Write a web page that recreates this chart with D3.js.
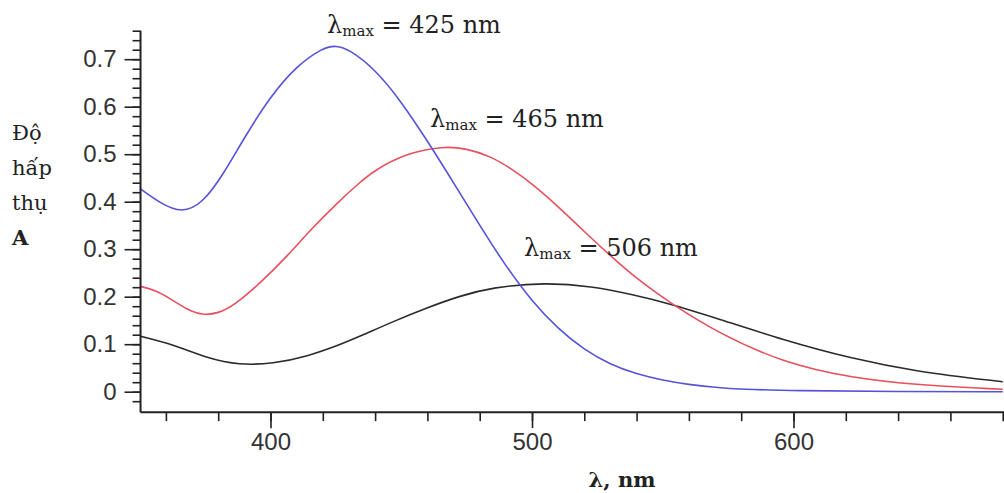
<!DOCTYPE html>
<html>
<head>
<meta charset="utf-8">
<script src="https://cdn.jsdelivr.net/npm/d3@7"></script>
<style>
  body { margin: 0; background: #fff; }
  svg { display: block; }
</style>
</head>
<body>
<script>
var width = 1004;
var height = 493;

// wavelength (nm) / absorbance readings for each curve
var blueWl = [350, 358, 366, 374, 382, 390, 400, 410, 420, 425, 430, 440, 450, 460, 470, 480, 490, 500, 510, 520, 530, 540, 550, 560, 570, 580, 600, 640, 680];
var blueA  = [0.428, 0.396, 0.376, 0.396, 0.458, 0.535, 0.622, 0.686, 0.724, 0.729, 0.721, 0.679, 0.611, 0.528, 0.440, 0.350, 0.264, 0.190, 0.132, 0.088, 0.057, 0.037, 0.024, 0.015, 0.009, 0.005, 0.002, 0.0, 0.0];

var redWl = [350, 356, 362, 368, 374, 380, 386, 397, 407, 415, 426, 434, 440, 452, 466, 475, 484, 492, 500, 510, 520, 530, 540, 553, 571, 596, 622, 647, 680];
var redA  = [0.222, 0.214, 0.195, 0.173, 0.161, 0.165, 0.181, 0.233, 0.289, 0.339, 0.400, 0.440, 0.467, 0.502, 0.517, 0.512, 0.496, 0.470, 0.438, 0.390, 0.337, 0.286, 0.238, 0.186, 0.124, 0.061, 0.029, 0.014, 0.005];

var blackWl = [350, 363, 376, 388, 401, 414, 427, 434, 447, 460, 472, 485, 505, 523, 538, 553, 571, 596, 622, 647, 680];
var blackA  = [0.117, 0.099, 0.070, 0.056, 0.059, 0.074, 0.100, 0.116, 0.148, 0.177, 0.201, 0.220, 0.230, 0.222, 0.205, 0.185, 0.154, 0.109, 0.070, 0.042, 0.021];

var xMajor = [400, 500, 600];
var xMinor = d3.range(360, 681, 20);
var yMajor = [0, 0.1, 0.2, 0.3, 0.4, 0.5, 0.6, 0.7];
var yMinor = d3.range(-0.02, 0.761, 0.02);

var peaks = [
  {sub: "max", text: " = 425 nm", x: 327, y: 33},
  {sub: "max", text: " = 465 nm", x: 430, y: 127},
  {sub: "max", text: " = 506 nm", x: 524, y: 256}
];

var x = d3.scaleLinear().domain([400, 600]).range([270.5, 793.5]);
var y = d3.scaleLinear().domain([0, 0.7]).range([391.7, 59.2]);

var axisX0 = x(350.3), axisY0 = y(-0.043);

var svg = d3.select("body").append("svg")
  .attr("width", width)
  .attr("height", height);

svg.append("clipPath").attr("id", "plot")
  .append("rect")
  .attr("x", axisX0).attr("y", 0)
  .attr("width", width - axisX0).attr("height", axisY0);

var line = d3.line()
  .x(function(d){ return x(d[0]); })
  .y(function(d){ return y(d[1]); })
  .curve(d3.curveBasis);

var series = [
  {wl: blackWl, a: blackA, color: "#2b2b2b"},
  {wl: redWl, a: redA, color: "#e8505e"},
  {wl: blueWl, a: blueA, color: "#5552dc"}
];

svg.append("g").attr("clip-path", "url(#plot)")
  .selectAll("path")
  .data(series)
  .enter()
  .append("path")
  .attr("d", function(s){ return line(d3.zip(s.wl, s.a)); })
  .attr("fill", "none")
  .attr("stroke", function(s){ return s.color; })
  .attr("stroke-width", 1.6);

// y axis: minor and major ticks in separate groups
svg.append("g").attr("class", "ax")
  .attr("transform", "translate(" + axisX0 + ",0)")
  .call(d3.axisLeft(y).tickValues(yMinor).tickSize(8).tickFormat(""));
svg.append("g").attr("class", "ax")
  .attr("transform", "translate(" + axisX0 + ",0)")
  .call(d3.axisLeft(y).tickValues(yMajor).tickSize(16).tickPadding(8)
    .tickFormat(function(d){ return d === 0 ? "0" : d3.format(".1f")(d); }));

// x axis
svg.append("g").attr("class", "ax")
  .attr("transform", "translate(0," + axisY0 + ")")
  .call(d3.axisBottom(x).tickValues(xMinor).tickSize(9).tickFormat(""));
svg.append("g").attr("class", "ax")
  .attr("transform", "translate(0," + axisY0 + ")")
  .call(d3.axisBottom(x).tickValues(xMajor).tickSize(16).tickPadding(5).tickFormat(d3.format("d")));

svg.selectAll(".ax .domain").remove();
svg.selectAll(".ax .tick line").attr("stroke", "#222").attr("stroke-width", 1.6);
svg.selectAll(".ax .tick text")
  .attr("font-family", "'Liberation Sans', Arial, sans-serif")
  .attr("font-size", 24)
  .attr("fill", "#333");

svg.append("line")
  .attr("x1", axisX0).attr("x2", axisX0)
  .attr("y1", y(0.76)).attr("y2", axisY0)
  .attr("stroke", "#222").attr("stroke-width", 2);
svg.append("line")
  .attr("x1", axisX0).attr("x2", width)
  .attr("y1", axisY0).attr("y2", axisY0)
  .attr("stroke", "#222").attr("stroke-width", 2);

// y title
var yTitle = ["Độ", "hấp", "thụ", "A"];
svg.append("g").selectAll("text")
  .data(yTitle)
  .enter()
  .append("text")
  .attr("x", 12)
  .attr("y", function(d, i){ return 140 + i * 35; })
  .attr("font-family", "'DejaVu Serif', serif")
  .attr("font-size", 21)
  .attr("font-weight", function(d){ return d === "A" ? "bold" : "normal"; })
  .attr("fill", "#222")
  .text(function(d){ return d; });

// x title
svg.append("text")
  .attr("x", 622).attr("y", 487)
  .attr("text-anchor", "middle")
  .attr("font-family", "'DejaVu Serif', serif")
  .attr("font-size", 21)
  .attr("font-weight", "bold")
  .attr("fill", "#222")
  .text("λ, nm");

// peak labels
var pl = svg.append("g").selectAll("text")
  .data(peaks)
  .enter()
  .append("text")
  .attr("x", function(d){ return d.x; })
  .attr("y", function(d){ return d.y; })
  .attr("font-family", "'DejaVu Serif', serif")
  .attr("font-size", 24)
  .attr("fill", "#222");
pl.append("tspan").text("λ");
pl.append("tspan").attr("font-size", 15).attr("dy", 3).text(function(d){ return d.sub; });
pl.append("tspan").attr("dy", -3).text(function(d){ return d.text; });
</script>
</body>
</html>
